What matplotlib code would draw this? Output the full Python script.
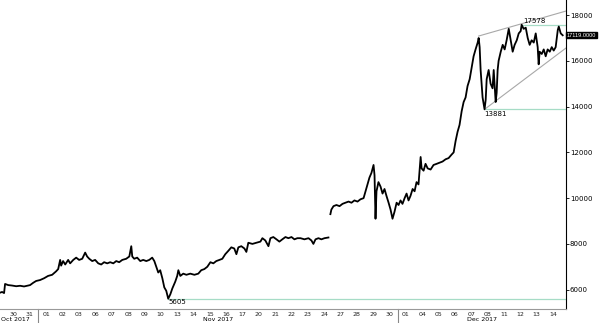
import numpy as np
import matplotlib.pyplot as plt

# time in trading days (Oct 30 2017 = 0), weekends squeezed out
t1 = [-0.32, -0.20, -0.08, -0.02, 0.17, 0.41, 0.66, 0.90, 1.14, 1.39, 1.51, 1.70, 1.88, 2.12,
      2.37, 2.61, 2.86, 3.10, 3.23, 3.35, 3.41, 3.53, 3.66, 3.84, 3.96, 4.15, 4.33, 4.51, 4.70,
      4.88, 5.00, 5.13, 5.31, 5.49, 5.68, 5.86, 6.04, 6.23, 6.41, 6.60, 6.78, 6.96, 7.15, 7.39,
      7.58, 7.70, 7.76, 7.88, 8.06, 8.25, 8.43, 8.62, 8.80, 8.98, 9.11, 9.23, 9.35, 9.47, 9.60,
      9.72, 9.84, 9.96, 10.09, 10.21, 10.39, 10.51, 10.58, 10.70, 10.88, 11.07, 11.31, 11.56,
      11.80, 11.98, 12.17, 12.35, 12.54, 12.72, 12.90, 13.09, 13.27, 13.45, 13.64, 13.82, 14.00,
      14.13, 14.25, 14.43, 14.62, 14.74, 14.86, 15.11, 15.35, 15.60, 15.72, 15.90, 16.09, 16.21,
      16.39, 16.58, 16.76, 16.94, 17.13, 17.31, 17.50, 17.68, 17.86, 18.05, 18.29, 18.54, 18.72,
      18.84, 18.97, 19.15, 19.33, 19.52, 19.76]
p1 = [5870, 5900, 5850, 6250, 6200, 6180, 6150, 6170, 6140, 6180, 6200, 6300, 6380, 6420,
      6500, 6600, 6650, 6800, 6900, 7300, 7050, 7250, 7100, 7300, 7150, 7300, 7400, 7300, 7350,
      7620, 7450, 7350, 7250, 7300, 7150, 7100, 7200, 7150, 7200, 7150, 7250, 7200, 7300, 7350,
      7450, 7900, 7450, 7350, 7400, 7250, 7300, 7250, 7300, 7400, 7250, 7000, 6750, 6850, 6500,
      6100, 5950, 5605, 5800, 6050, 6350, 6600, 6850, 6600, 6700, 6650, 6700, 6650,
      6700, 6850, 6900, 7000, 7200, 7150, 7250, 7300, 7350, 7550, 7700, 7850, 7800,
      7550, 7850, 7900, 7800, 7650, 8050, 8000, 8050, 8100, 8250, 8150, 7900, 8250,
      8300, 8200, 8100, 8200, 8300, 8250, 8300, 8200, 8250, 8250, 8200, 8250, 8150,
      8000, 8200, 8250, 8200, 8250, 8280]

t2 = [19.88, 19.94, 20.07, 20.25, 20.44, 20.62, 20.80, 20.99, 21.17, 21.35, 21.54, 21.72, 21.91,
      22.03, 22.15, 22.27, 22.39, 22.52, 22.58, 22.64, 22.70, 22.82, 22.95, 23.07, 23.19, 23.31,
      23.44, 23.56, 23.68, 23.80, 23.93, 24.05, 24.17, 24.29, 24.42, 24.54, 24.66, 24.78, 24.91,
      25.03, 25.15, 25.27, 25.40, 25.46, 25.58, 25.70, 25.83, 26.01, 26.19, 26.38, 26.56, 26.74,
      26.93, 27.11, 27.29, 27.42, 27.54, 27.66, 27.78, 27.91, 28.03, 28.15, 28.27, 28.40, 28.52,
      28.64, 28.76, 28.89, 28.95, 29.01, 29.07, 29.13, 29.19, 29.31, 29.38, 29.44, 29.56, 29.68,
      29.80, 29.87, 29.93, 29.99, 30.05, 30.11, 30.17, 30.30, 30.42, 30.54, 30.66, 30.79, 30.91,
      31.03, 31.15, 31.28, 31.40, 31.52, 31.58, 31.70, 31.83, 31.95, 32.07, 32.19, 32.32, 32.44,
      32.56, 32.62, 32.68, 32.81, 32.93, 33.05, 33.17, 33.30, 33.42, 33.54, 33.66, 33.79, 33.85,
      33.97, 34.09]
p2 = [9300, 9500, 9650, 9700, 9650, 9750, 9800, 9850, 9800, 9900, 9850, 9950, 10000,
      10300, 10600, 10900, 11100, 11450, 11000, 9100, 10300, 10700, 10500, 10200, 10400, 10100,
      9800, 9500, 9100, 9400, 9800, 9700, 9900, 9750, 10000, 10200, 9900, 10100, 10400,
      10300, 10700, 10600, 11800, 11300, 11200, 11500, 11300, 11250, 11450, 11500, 11550, 11600,
      11700, 11750, 11900, 12000, 12500, 12900, 13200, 13800, 14200, 14400, 14900, 15200, 15700,
      16200, 16500, 16800, 17000, 16600, 15600, 15000, 14400, 13881, 14300, 15200, 15600, 15000,
      14800, 15600, 14900, 14200, 14600, 15600, 16000, 16400, 16700, 16500, 16900, 17400, 16900,
      16400, 16700, 16900, 17200, 17300, 17578, 17400, 17450, 17000, 16700, 16900, 16800, 17200,
      16600, 15850, 16400, 16300, 16500, 16200, 16500, 16400, 16600, 16450, 16600, 17350, 17500,
      17200, 17119]

day_labels = ['30', '31', '01', '02', '03', '06', '07', '08', '09', '10', '13', '14', '15', '16',
              '17', '20', '21', '22', '23', '24', '27', '28', '29', '30', '01', '04', '05', '06',
              '07', '08', '11', '12', '13', '14']
months = ['Oct 2017', 'Nov 2017', 'Dec 2017']
month_start = [-1, 2, 24]

levels = [5605, 13881, 17578]
level_start = [9.96, 29.31, 31.58]
upper_trend_t = [28.95, 34.28]
upper_trend_v = [17085, 18175]
lower_trend_t = [29.31, 34.28]
lower_trend_v = [13881, 16555]
last_price = 17119.0

fig = plt.figure(figsize=(6, 3.23), dpi=100)
ax = fig.add_axes([0, 0.043, 0.943, 0.957])
xmin, xmax = -0.33, 34.28
ax.set_xlim(xmin, xmax)
ax.set_ylim(5150, 18660)

green = '#a6dcc6'
for lv, st in zip(levels, level_start):
    ax.plot([st, xmax], [lv, lv], color=green, lw=0.9, zorder=1)
ax.plot(upper_trend_t, upper_trend_v, color='#a8a8a8', lw=0.8, zorder=1)
ax.plot(lower_trend_t, lower_trend_v, color='#a8a8a8', lw=0.8, zorder=1)

ax.plot(t1, p1, color='black', lw=1.3, zorder=3)
ax.plot(t2, p2, color='black', lw=1.3, zorder=3)

fs = 5
ax.text(31.7, 17578 + 40, '17578', fontsize=fs, ha='left', va='bottom')
ax.text(29.31, 13881 - 60, '13881', fontsize=fs, ha='left', va='top')
ax.text(9.96, 5605 - 20, '5605', fontsize=fs, ha='left', va='top')

# right axis
ax.yaxis.tick_right()
ax.set_yticks(np.arange(6000, 18001, 2000))
ax.set_yticklabels([str(v) for v in range(6000, 18001, 2000)])
ax.tick_params(axis='y', labelsize=fs, length=2, width=0.6, pad=1, colors='black')
ax.text(xmax + 0.06, last_price, '%.4f' % last_price, fontsize=4.1, color='white',
        family='Liberation Sans', ha='left', va='center', clip_on=False,
        bbox=dict(boxstyle='square,pad=0.1', fc='black', ec='black'))

# bottom axis
ax.set_xticks(np.arange(len(day_labels)) + 0.5)
ax.set_xticklabels(day_labels)
ax.tick_params(axis='x', labelsize=4.5, length=0, pad=2.2, colors='#222222')
for i, (name, st) in enumerate(zip(months, month_start)):
    end = month_start[i + 1] if i + 1 < len(months) else xmax
    if st < xmin:
        ax.text(xmin + 0.05, -0.033, name, transform=ax.get_xaxis_transform(),
                fontsize=4.5, ha='left', va='center', clip_on=False)
    else:
        ax.text((st + end) / 2, -0.033, name, transform=ax.get_xaxis_transform(),
                fontsize=4.5, ha='center', va='center', clip_on=False)
        ax.plot([st, st], [0, -0.05], color='#888888', lw=0.8,
                transform=ax.get_xaxis_transform(), clip_on=False)

for s in ['left', 'top']:
    ax.spines[s].set_visible(False)
ax.spines['right'].set_linewidth(0.8)
ax.spines['bottom'].set_color('#999999')
ax.spines['bottom'].set_linewidth(0.8)

fig.savefig('out.png')
